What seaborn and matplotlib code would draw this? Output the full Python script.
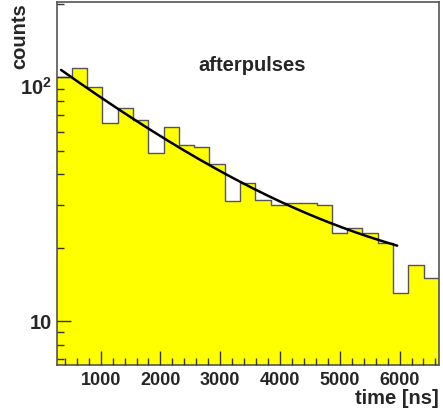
import numpy as np
import pandas as pd
import matplotlib
matplotlib.use("Agg")
import matplotlib.pyplot as plt
import matplotlib.transforms as mtransforms
import seaborn as sns
from matplotlib.ticker import FixedLocator, FixedFormatter, MultipleLocator, LogLocator, NullFormatter

# histogram: 25 bins of 256 ns
bin_low = 260
bin_high = 6660
n_bins = 25
counts = [100, 109, 91, 65, 75, 67, 49, 62.5, 53, 52, 44, 31, 37, 31.5,
          30, 30.5, 30.5, 30, 23, 24, 23, 21, 13, 17, 15]

# fit curve: A*exp(-t/tau) + C
fit_amp = 110.0
fit_tau = 2208.0
fit_const = 13.0
fit_range = (338, 5960)

edges = np.linspace(bin_low, bin_high, n_bins + 1)
centers = 0.5 * (edges[:-1] + edges[1:])
df = pd.DataFrame({"time": centers, "counts": counts})

sns.set_style("white")
plt.rcParams["font.family"] = ["Liberation Sans", "DejaVu Sans"]
plt.rcParams["font.weight"] = "bold"
plt.rcParams["mathtext.fontset"] = "custom"
plt.rcParams["mathtext.rm"] = "Liberation Sans:bold"
plt.rcParams["mathtext.bf"] = "Liberation Sans:bold"

fig = plt.figure(figsize=(4.43, 4.15), dpi=100)
ax = fig.add_axes([0.128, 0.1205, 0.863, 0.8745])

sns.histplot(data=df, x="time", weights="counts", bins=list(edges), element="step",
             fill=True, color="#ffff00", alpha=1, edgecolor="#555555",
             linewidth=1.0, ax=ax)
ax.set_yscale("log")

t = np.linspace(fit_range[0], fit_range[1], 200)
sns.lineplot(x=t, y=fit_amp * np.exp(-t / fit_tau) + fit_const,
             color="black", linewidth=1.8, ax=ax)

ax.set_xlim(265, 6660)
ax.set_ylim(6.6, 204)
ax.set_axisbelow(False)

ax.xaxis.set_major_locator(MultipleLocator(1000))
ax.xaxis.set_minor_locator(MultipleLocator(200))
ax.yaxis.set_major_locator(FixedLocator([10, 100]))
ax.yaxis.set_major_formatter(FixedFormatter(["10", r"$\mathbf{10^{2}}$"]))
ax.yaxis.set_minor_locator(LogLocator(base=10, subs=np.arange(2, 10)))
ax.yaxis.set_minor_formatter(NullFormatter())

ax.tick_params(which="both", direction="in", top=False, right=False,
               bottom=True, left=True, color="#333333", width=1.0)
ax.tick_params(which="major", length=10)
ax.tick_params(which="minor", length=5)
ax.tick_params(axis="x", which="major", pad=5, labelsize=13)
ax.tick_params(axis="y", which="major", pad=3.5, labelsize=14.5)
for lab in ax.get_xticklabels() + ax.get_yticklabels():
    lab.set_fontweight("bold")

# ROOT draws the 10^2 label a bit below its tick
lab100 = ax.yaxis.get_major_ticks()[1].label1
lab100.set_transform(lab100.get_transform() +
                     mtransforms.ScaledTranslation(0, -6 / 72, fig.dpi_scale_trans))

for s in ax.spines.values():
    s.set_color("#555555")
    s.set_linewidth(1.2)

ax.set_xlabel("")
ax.set_ylabel("")
fig.text(0.991, 0.027, "time [ns]", ha="right", va="baseline",
         fontsize=14.5, fontweight="bold")
fig.text(0.045, 0.993, "counts", ha="center", va="top", rotation=90,
         fontsize=14.5, fontweight="bold")
ax.text(0.512, 0.826, "afterpulses", transform=ax.transAxes, ha="center",
        va="center", fontsize=14.5, fontweight="bold")

fig.savefig("out.png", dpi=100)
